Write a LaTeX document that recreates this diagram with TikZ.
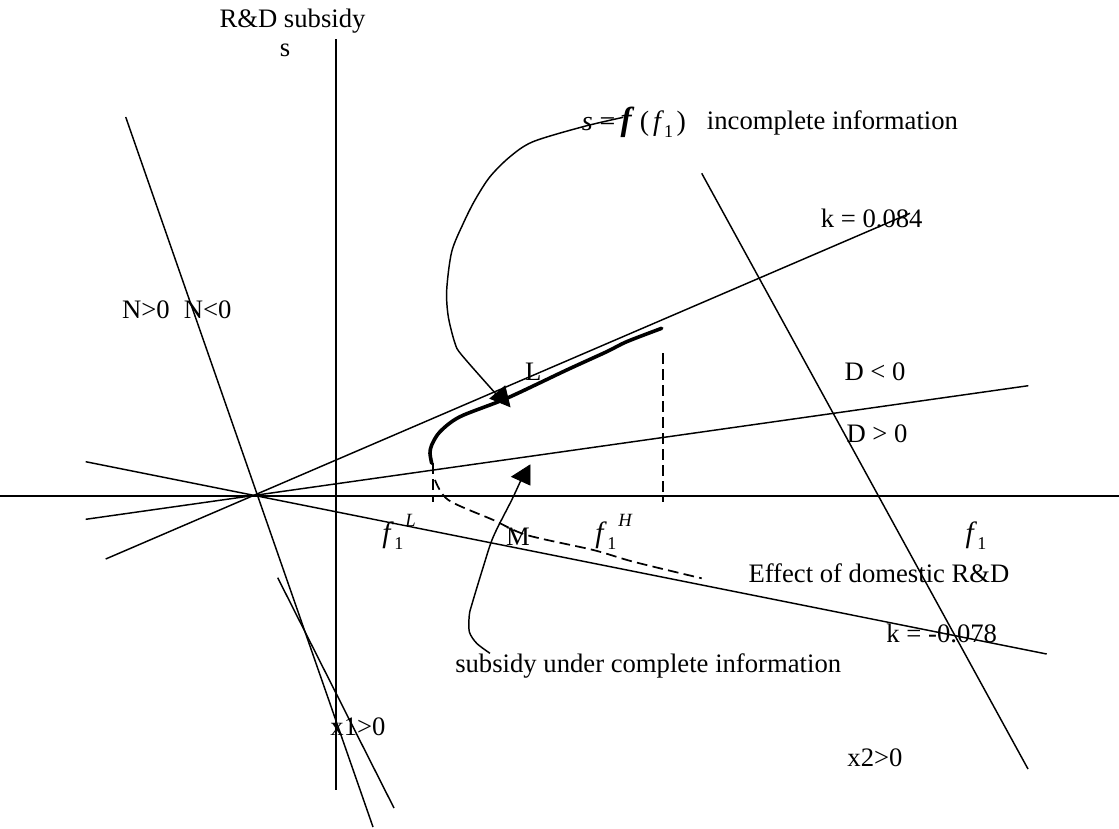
\documentclass[tikz,border=0pt]{standalone}
\usepackage{fontspec}
\setmainfont{Liberation Serif}
\usetikzlibrary{arrows.meta}
\newcommand\subfont{\fontsize{13.5}{14}\selectfont}
\newcommand\supfont{\fontsize{14}{15}\selectfont}
\newcommand\fone{{\fontsize{22}{24}\selectfont\textit{f}}\kern0.3pt\raisebox{-0.55ex}{\subfont 1}}
\newcommand\fsup[1]{\fone\kern1.5pt\raisebox{1.3ex}{\supfont\textit{#1}}}
\begin{document}
\begin{tikzpicture}[x=0.75pt,y=-0.75pt,
  ln/.style={line width=1.1pt},
  boldln/.style={line width=2.7pt, line join=round, line cap=round},
  dsh/.style={line width=1.3pt, dash pattern=on 8pt off 4pt},
  lbl/.style={inner sep=0pt, font=\fontsize{20}{24}\selectfont},
  headtri/.style={fill=black, draw=black, line width=0.6pt, line join=miter}]
\useasboundingbox (0,0) rectangle (1119,828);

% axes
\coordinate (hxl) at (0,496);
\coordinate (hxr) at (1119,496);
\coordinate (vxt) at (336,39);
\coordinate (vxb) at (336,790);
\draw[ln] (hxl) -- (hxr);
\draw[ln] (vxt) -- (vxb);

% lines through the common point
\coordinate (P) at (257,495.5);
\coordinate (Ntop) at (125.7,117);
\coordinate (Nbot) at (373,827);
\coordinate (KaL) at (105.7,559);
\coordinate (KaR) at (910,213.3);
\coordinate (DL) at (85.7,519.3);
\coordinate (DR) at (1028.3,385.7);
\coordinate (KbL) at (85.7,461.7);
\coordinate (KbR) at (1046.7,654);
\draw[ln] (Ntop) -- (Nbot);
\draw[ln] (KaL) -- (KaR);
\draw[ln] (DL) -- (DR);
\draw[ln] (KbL) -- (KbR);

% other lines
\coordinate (Xa) at (277.7,577.7);
\coordinate (Xb) at (394,808);
\draw[ln] (Xa) -- (Xb);
\coordinate (Sa) at (701.7,173.3);
\coordinate (Sb) at (1028,769);
\draw[ln] (Sa) -- (Sb);

% labels
\node[lbl] (rd) at (292.5,21) {R\&D subsidy};
\node[lbl] (s) at (285,50) {s};
\node[lbl] (npos) at (146,310) {N>0};
\node[lbl] (nneg) at (207.7,310) {N<0};
\node[lbl, anchor=base west] (formula) at (581.7,130) {{\fontsize{21}{24}\selectfont\textit{s}\kern5pt=\kern4pt{\fontsize{25}{26}\selectfont\textbf{\textit{f}}}\kern4pt(\kern3pt\textit{f}\raisebox{-0.55ex}{\subfont 1}\kern2.5pt)}};
\node[lbl, anchor=west] (incomp) at (706.7,123) {incomplete information};
\node[lbl] (k1) at (871.7,218) {k = 0.084};
\node[lbl] (L) at (533.3,371.7) {L};
\node[lbl] (dneg) at (875,371.7) {D < 0};
\node[lbl] (dpos) at (877,434) {D > 0};
\node[lbl] (fL) at (399,532) {\fsup{L}};
\node[lbl] (M) at (518,537) {M};
\node[lbl] (fH) at (614,532) {\fsup{H}};
\node[lbl] (fo) at (976,536) {\fone};
\node[lbl] (eff) at (879,573) {Effect of domestic R\&D};
\node[lbl] (k2) at (941.7,633) {k = -0.078};
\node[lbl, anchor=west] (compl) at (455,666) {subsidy under complete information};
\node[lbl] (x1) at (358,727) {x1>0};
\node[lbl] (x2) at (875,758) {x2>0};

% bold curve (incomplete information)
\draw[boldln] plot[smooth, tension=0.5] coordinates {(661.7,328.3) (626.7,341.7) (606.7,351.7) (566.7,370) (506.7,398.3) (460,416.7) (440,431.7) (431.7,445) (430,453.3) (431.7,463.3)};

% dashed lines
\coordinate (dLt) at (432.7,463);
\coordinate (dLb) at (432.7,502);
\draw[dsh] (dLt) -- (dLb);
\coordinate (dHt) at (663.3,353);
\coordinate (dHb) at (663.3,502);
\draw[dsh] (dHt) -- (dHb);
\draw[dsh] plot[smooth, tension=0.5] coordinates {(435,480) (448.3,500) (493.3,520) (526.7,535) (593.3,550) (633.3,561.7) (701.7,578.3)};

% callout from formula
\draw[ln] plot[smooth, tension=0.5] coordinates {(623.3,117.3) (583,126.7) (533,141.7) (510,156.7) (490,176.7) (475,200) (463.3,223.3) (451.7,251.7) (446.7,290) (448.3,316.7) (455,343.3) (461.7,355) (496,394)};
\coordinate (ta) at (490,398.5);
\coordinate (tb) at (505,386);
\coordinate (tc) at (510,406.7);
\fill[headtri] (ta) -- (tb) -- (tc) -- cycle;

% callout from complete-information label
\draw[ln] plot[smooth, tension=0.5] coordinates {(490,653.3) (476.7,643.3) (469.3,631.7) (469.3,615) (471.7,605) (483.3,566.7) (493.3,536.7) (511.7,500) (521,480)};
\coordinate (ua) at (530,465);
\coordinate (ub) at (511.7,476.7);
\coordinate (uc) at (530,485);
\fill[headtri] (ua) -- (ub) -- (uc) -- cycle;
\end{tikzpicture}
\end{document}
